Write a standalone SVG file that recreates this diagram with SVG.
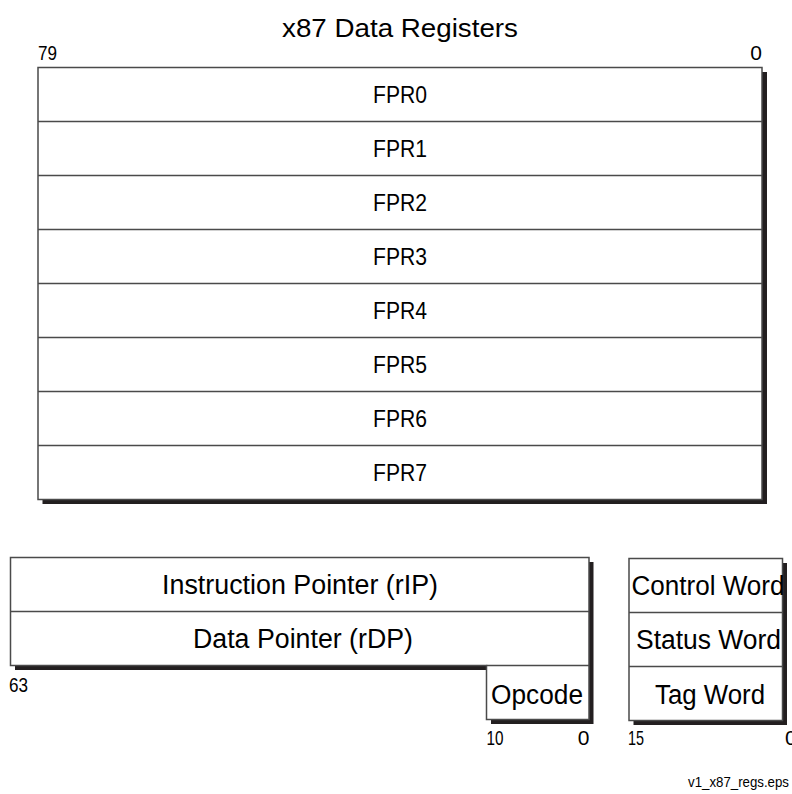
<svg xmlns="http://www.w3.org/2000/svg" width="792" height="794" viewBox="0 0 792 794">
<style>
.bg{fill:#ffffff}
.box{fill:#ffffff;stroke:#4a4a4a;stroke-width:1.5}
.shadow{fill:#231f20}
.div{stroke:#4a4a4a;stroke-width:1.5;fill:none}
.t{font-family:"Liberation Sans",Arial,sans-serif;fill:#000}
.lbl{font-size:23px;text-anchor:middle}
.big{font-size:27px;text-anchor:middle}
.num{font-size:21px}
</style>
<rect class="bg" x="0" y="0" width="792" height="794"/>
<text class="t" x="400" y="37" font-size="25" text-anchor="middle" textLength="236" lengthAdjust="spacingAndGlyphs">x87 Data Registers</text>
<text class="t num" x="38" y="60" textLength="19" lengthAdjust="spacingAndGlyphs">79</text>
<text class="t num" x="762" y="60" text-anchor="end">0</text>

<g id="x87-data-registers">
<rect class="shadow" x="42.5" y="72" width="724.5" height="432"/>
<rect class="box" x="38" y="67.5" width="724" height="432"/>
</g>
<g id="FPR0"><text class="t lbl" x="400" y="103" textLength="54" lengthAdjust="spacingAndGlyphs">FPR0</text></g>
<g id="FPR1"><line class="div" x1="38" y1="121.5" x2="762" y2="121.5"/><text class="t lbl" x="400" y="157" textLength="54" lengthAdjust="spacingAndGlyphs">FPR1</text></g>
<g id="FPR2"><line class="div" x1="38" y1="175.5" x2="762" y2="175.5"/><text class="t lbl" x="400" y="211" textLength="54" lengthAdjust="spacingAndGlyphs">FPR2</text></g>
<g id="FPR3"><line class="div" x1="38" y1="229.5" x2="762" y2="229.5"/><text class="t lbl" x="400" y="265" textLength="54" lengthAdjust="spacingAndGlyphs">FPR3</text></g>
<g id="FPR4"><line class="div" x1="38" y1="283.5" x2="762" y2="283.5"/><text class="t lbl" x="400" y="319" textLength="54" lengthAdjust="spacingAndGlyphs">FPR4</text></g>
<g id="FPR5"><line class="div" x1="38" y1="337.5" x2="762" y2="337.5"/><text class="t lbl" x="400" y="373" textLength="54" lengthAdjust="spacingAndGlyphs">FPR5</text></g>
<g id="FPR6"><line class="div" x1="38" y1="391.5" x2="762" y2="391.5"/><text class="t lbl" x="400" y="427" textLength="54" lengthAdjust="spacingAndGlyphs">FPR6</text></g>
<g id="FPR7"><line class="div" x1="38" y1="445.5" x2="762" y2="445.5"/><text class="t lbl" x="400" y="481" textLength="54" lengthAdjust="spacingAndGlyphs">FPR7</text></g>

<g id="pointer-registers">
<polygon class="shadow" points="15,562 593.5,562 593.5,724 491,724 491,670 15,670"/>
<polygon class="box" points="10.5,557.5 589,557.5 589,719.5 486.5,719.5 486.5,665.5 10.5,665.5"/>
</g>
<g id="rIP"><text class="t big" x="300" y="594" textLength="276" lengthAdjust="spacingAndGlyphs">Instruction Pointer (rIP)</text></g>
<g id="rDP"><line class="div" x1="10.5" y1="611.5" x2="589" y2="611.5"/><text class="t big" x="303" y="648" textLength="220" lengthAdjust="spacingAndGlyphs">Data Pointer (rDP)</text></g>
<g id="Opcode"><line class="div" x1="486.5" y1="665.5" x2="589" y2="665.5"/><text class="t big" x="537" y="704" textLength="92" lengthAdjust="spacingAndGlyphs">Opcode</text></g>
<text class="t num" x="9" y="691.5" textLength="19" lengthAdjust="spacingAndGlyphs">63</text>
<text class="t num" x="486.5" y="745" textLength="17" lengthAdjust="spacingAndGlyphs">10</text>
<text class="t num" x="589.5" y="745" text-anchor="end">0</text>

<g id="control-registers">
<rect class="shadow" x="633.5" y="563" width="153.5" height="162"/>
<rect class="box" x="629" y="558.5" width="153.5" height="162"/>
</g>
<g id="ControlWord"><text class="t big" x="708" y="595" textLength="153" lengthAdjust="spacingAndGlyphs">Control Word</text></g>
<g id="StatusWord"><line class="div" x1="629" y1="612.5" x2="782.5" y2="612.5"/><text class="t big" x="708.5" y="649" textLength="145" lengthAdjust="spacingAndGlyphs">Status Word</text></g>
<g id="TagWord"><line class="div" x1="629" y1="666.5" x2="782.5" y2="666.5"/><text class="t big" x="710" y="704" textLength="110" lengthAdjust="spacingAndGlyphs">Tag Word</text></g>
<text class="t num" x="628" y="745" textLength="16" lengthAdjust="spacingAndGlyphs">15</text>
<text class="t num" x="785" y="745">0</text>

<text class="t" x="789" y="787" font-size="15" text-anchor="end" textLength="101" lengthAdjust="spacingAndGlyphs">v1_x87_regs.eps</text>
</svg>
